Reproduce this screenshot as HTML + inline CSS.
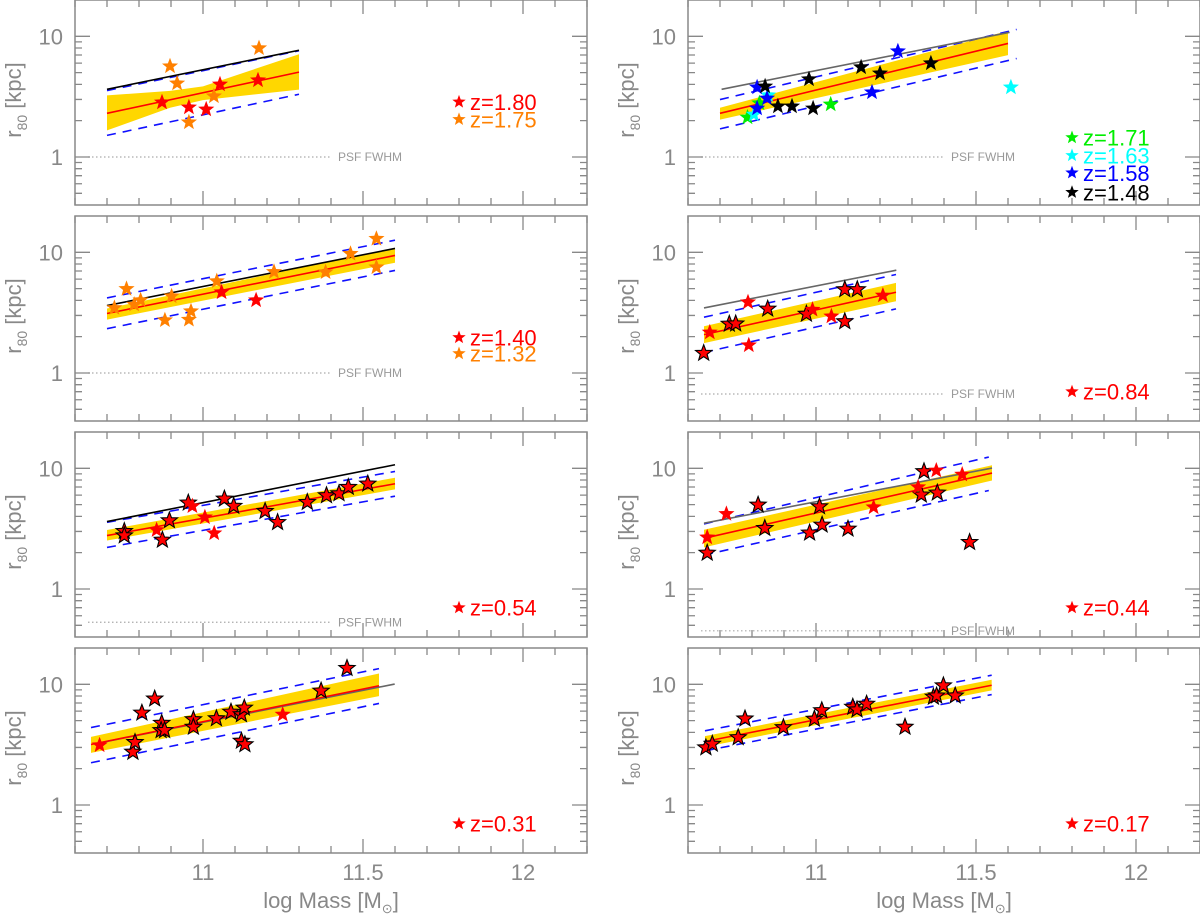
<!DOCTYPE html>
<html><head><meta charset="utf-8"><style>
html,body{margin:0;padding:0;background:#fff}
svg{display:block}
text{font-family:"Liberation Sans",sans-serif}
</style></head><body>
<svg id="chart" width="1200" height="916" viewBox="0 0 1200 916" xmlns="http://www.w3.org/2000/svg"></svg>
<script>
// ---------- DATA ----------
// Panel 1L (z=1.80 / 1.75)
const p1L_starMass=[10.872,10.956,11.01,11.053,11.172,10.897,10.919,10.956,11.034,11.175];
const p1L_starR=[2.84,2.58,2.48,4.0,4.33,5.65,4.08,1.94,3.19,7.98];
const p1L_starSeries=["red","red","red","red","red","orange","orange","orange","orange","orange"];
const p1L_fitMass=[10.7,11.3]; const p1L_fitR=[2.30,5.05];
const p1L_bandMass=[10.7,10.897,11.0,11.3]; const p1L_bandHi=[3.24,3.53,3.85,7.1]; const p1L_bandLo=[1.66,2.56,2.96,3.62];
const p1L_dashMass=[10.7,11.3]; const p1L_dashHi=[3.55,7.6]; const p1L_dashLo=[1.51,3.31];
const p1L_refMass=[10.7,11.3]; const p1L_refR=[3.64,7.67];
// Panel 1R (z=1.71..1.48)
const p1R_starMass=[10.786,10.823,11.046,10.806,10.85,11.609,10.816,10.816,10.847,11.175,11.256,10.841,10.881,10.925,10.991,10.978,11.141,11.2,11.359];
const p1R_starR=[2.13,2.79,2.73,2.25,3.25,3.78,3.78,2.53,3.06,3.44,7.53,3.85,2.63,2.63,2.53,4.41,5.55,4.94,5.99];
const p1R_starSeries=["green","green","green","cyan","cyan","cyan","blue","blue","blue","blue","blue","black","black","black","black","black","black","black","black"];
const p1R_fitMass=[10.7,11.6]; const p1R_fitR=[2.30,8.73];
const p1R_bandMass=[10.7,11.6]; const p1R_bandHi=[2.56,11.1]; const p1R_bandLo=[2.04,6.98];
const p1R_dashMass=[10.7,11.627]; const p1R_dashHi=[2.99,11.4]; const p1R_dashLo=[1.71,6.55];
const p1R_refMass=[10.705,11.605]; const p1R_refR=[3.64,10.8];
// Panel 2L (z=1.40 / 1.32)
const p2L_starMass=[10.723,10.761,10.785,10.805,10.902,10.881,10.956,10.9625,11.043,11.222,11.383,11.461,11.542,11.542,11.058,11.166];
const p2L_starR=[3.46,4.98,3.69,4.01,4.33,2.74,2.77,3.25,5.77,6.89,6.85,9.73,12.96,7.53,4.67,4.01];
const p2L_starSeries=["orange","orange","orange","orange","orange","orange","orange","orange","orange","orange","orange","orange","orange","orange","red","red"];
const p2L_fitMass=[10.7,11.6]; const p2L_fitR=[3.11,9.42];
const p2L_bandMass=[10.7,11.6]; const p2L_bandHi=[3.42,10.9]; const p2L_bandLo=[2.77,8.19];
const p2L_dashMass=[10.7,11.6]; const p2L_dashHi=[4.19,12.6]; const p2L_dashLo=[2.33,7.08];
const p2L_refMass=[10.7,11.6]; const p2L_refR=[3.62,10.77];
// Panel 2R (z=0.84)
const p2R_starMass=[10.649,10.729,10.749,10.849,10.970,10.989,11.09,11.129,11.09,10.668,10.7875,10.79,11.048,11.209];
const p2R_starR=[1.46,2.55,2.56,3.40,3.08,3.35,4.92,4.92,2.67,2.17,3.86,1.70,2.95,4.39];
const p2R_starSeries=["edged","edged","edged","edged","edged","red","edged","edged","edged","red","red","red","red","red"];
const p2R_fitMass=[10.65,11.25]; const p2R_fitR=[2.08,4.67];
const p2R_bandMass=[10.65,11.25]; const p2R_bandHi=[2.44,5.58]; const p2R_bandLo=[1.77,3.93];
const p2R_dashMass=[10.65,11.25]; const p2R_dashHi=[2.90,6.55]; const p2R_dashLo=[1.48,3.40];
const p2R_refMass=[10.65,11.251]; const p2R_refR=[3.46,7.11];
// Panel 3L (z=0.54)
const p3L_starMass=[10.754,10.754,10.873,10.895,10.954,11.067,11.096,11.194,11.233,11.326,11.386,11.425,11.454,11.515,10.855,10.967,11.006,11.035];
const p3L_starR=[3.01,2.77,2.55,3.69,5.18,5.59,4.86,4.41,3.57,5.24,5.95,6.18,6.98,7.44,3.08,4.86,3.93,2.90];
const p3L_starSeries=["edged","edged","edged","edged","edged","edged","edged","edged","edged","edged","edged","edged","edged","edged","red","red","red","red"];
const p3L_fitMass=[10.7,11.6]; const p3L_fitR=[2.77,7.45];
const p3L_bandMass=[10.7,11.6]; const p3L_bandHi=[3.08,8.36]; const p3L_bandLo=[2.52,6.69];
const p3L_dashMass=[10.7,11.6]; const p3L_dashHi=[3.57,9.42]; const p3L_dashLo=[2.21,5.88];
const p3L_refMass=[10.7,11.6]; const p3L_refR=[3.62,10.7];
// Panel 3R (z=0.44)
const p3R_starMass=[10.66,10.819,10.84,10.98,11.011,11.019,11.1,11.3375,11.329,11.379,11.48,10.66,10.72,11.18,11.319,11.376,11.457];
const p3R_starR=[1.99,4.98,3.19,2.92,4.82,3.40,3.15,9.42,6.03,6.27,2.44,2.68,4.19,4.76,6.98,9.60,8.89];
const p3R_starSeries=["edged","edged","edged","edged","edged","edged","edged","edged","edged","edged","edged","red","red","red","red","red","red"];
const p3R_fitMass=[10.65,11.55]; const p3R_fitR=[2.63,9.13];
const p3R_bandMass=[10.65,11.55]; const p3R_bandHi=[3.10,10.6]; const p3R_bandLo=[2.21,7.92];
const p3R_dashMass=[10.65,11.54]; const p3R_dashHi=[3.46,12.4]; const p3R_dashLo=[1.91,6.55];
const p3R_refMass=[10.65,11.55]; const p3R_refR=[3.51,10.05];
// Panel 4L (z=0.31)
const p4L_starMass=[10.677,10.781,10.7875,10.809,10.849,10.871,10.869,10.880,10.970,10.970,11.042,11.0875,11.12,11.129,11.12,11.131,11.249,11.369,11.45];
const p4L_starR=[3.13,2.75,3.31,5.80,7.59,4.77,4.16,4.16,5.11,4.43,5.21,5.91,5.62,6.38,3.39,3.17,5.62,8.83,13.6];
const p4L_starSeries=["red","edged","edged","edged","edged","edged","edged","edged","edged","edged","edged","edged","edged","edged","edged","edged","red","edged","edged"];
const p4L_fitMass=[10.65,11.55]; const p4L_fitR=[3.17,9.73];
const p4L_bandMass=[10.65,11.55]; const p4L_bandHi=[3.67,12.3]; const p4L_bandLo=[2.70,7.98];
const p4L_dashMass=[10.65,11.55]; const p4L_dashHi=[4.38,13.5]; const p4L_dashLo=[2.24,6.94];
const p4L_refMass=[10.677,11.599]; const p4L_refR=[3.27,10.05];
// Panel 4R (z=0.17)
const p4R_starMass=[10.656,10.676,10.757,10.778,10.898,10.995,11.018,11.115,11.128,11.158,11.278,11.367,11.377,11.398,11.435];
const p4R_starR=[2.99,3.20,3.63,5.19,4.39,5.16,6.08,6.49,6.16,6.88,4.43,7.86,8.05,9.76,8.05];
const p4R_starSeries=["edged","edged","edged","edged","edged","edged","edged","edged","edged","edged","edged","edged","edged","edged","edged"];
const p4R_fitMass=[10.653,11.549]; const p4R_fitR=[3.36,9.82];
const p4R_bandMass=[10.653,11.549]; const p4R_bandHi=[3.72,10.9]; const p4R_bandLo=[3.03,8.9];
const p4R_dashMass=[10.653,11.549]; const p4R_dashHi=[4.12,11.9]; const p4R_dashLo=[2.81,8.22];
// Legends
const legend1L_labels=["z=1.80","z=1.75"]; const legend1L_r=[2.86,2.05]; const legend1L_series=["red","orange"];
const legend1R_labels=["z=1.71","z=1.63","z=1.58","z=1.48"]; const legend1R_r=[1.45,1.03,0.74,0.51]; const legend1R_series=["green","cyan","blue","black"];
const legend2L_labels=["z=1.40","z=1.32"]; const legend2L_r=[1.97,1.45]; const legend2L_series=["red","orange"];
const legend2R_labels=["z=0.84"]; const legend2R_r=[0.7]; const legend2R_series=["red"];
const legend3L_labels=["z=0.54"]; const legend3L_r=[0.7]; const legend3L_series=["red"];
const legend3R_labels=["z=0.44"]; const legend3R_r=[0.7]; const legend3R_series=["red"];
const legend4L_labels=["z=0.31"]; const legend4L_r=[0.7]; const legend4L_series=["red"];
const legend4R_labels=["z=0.17"]; const legend4R_r=[0.7]; const legend4R_series=["red"];
const psfR=[1,1,1,0.67,0.53,0.45,null,null];
const xTickLabels=["11","11.5","12"]; const xTickValues=[11,11.5,12];
const yTickLabels=["1","10"]; const yTickValues=[1,10];

// ---------- RENDER ----------
const NS="http://www.w3.org/2000/svg";
const svg=document.getElementById('chart');
const COLORS={red:"#ff0000",orange:"#ff8000",green:"#00ee00",cyan:"#00ffff",blue:"#0000ff",black:"#000000",edged:"#ff0000"};
const MMIN=10.6,MMAX=12.2,LMIN=Math.log10(0.4),LMAX=Math.log10(20);
const PW=512,PH=205;
function mk(tag,attrs,parent){const e=document.createElementNS(NS,tag);for(const k in attrs)e.setAttribute(k,attrs[k]);(parent||svg).appendChild(e);return e;}
function starPath(cx,cy,R){const r=R*0.42;let d="";for(let i=0;i<10;i++){const a=-Math.PI/2+i*Math.PI/5;const rr=i%2?r:R;d+=(i?"L":"M")+(cx+rr*Math.cos(a)).toFixed(1)+","+(cy+rr*Math.sin(a)).toFixed(1);}return d+"Z";}

const panels=[
 {id:"1L",col:0,row:0,sm:p1L_starMass,sr:p1L_starR,ss:p1L_starSeries,fm:p1L_fitMass,fr:p1L_fitR,bm:p1L_bandMass,bh:p1L_bandHi,bl:p1L_bandLo,dm:p1L_dashMass,dh:p1L_dashHi,dl:p1L_dashLo,rm:p1L_refMass,rr:p1L_refR,refColor:"#000",ll:legend1L_labels,lr:legend1L_r,ls:legend1L_series},
 {id:"1R",col:1,row:0,sm:p1R_starMass,sr:p1R_starR,ss:p1R_starSeries,fm:p1R_fitMass,fr:p1R_fitR,bm:p1R_bandMass,bh:p1R_bandHi,bl:p1R_bandLo,dm:p1R_dashMass,dh:p1R_dashHi,dl:p1R_dashLo,rm:p1R_refMass,rr:p1R_refR,refColor:"#666",ll:legend1R_labels,lr:legend1R_r,ls:legend1R_series},
 {id:"2L",col:0,row:1,sm:p2L_starMass,sr:p2L_starR,ss:p2L_starSeries,fm:p2L_fitMass,fr:p2L_fitR,bm:p2L_bandMass,bh:p2L_bandHi,bl:p2L_bandLo,dm:p2L_dashMass,dh:p2L_dashHi,dl:p2L_dashLo,rm:p2L_refMass,rr:p2L_refR,refColor:"#000",ll:legend2L_labels,lr:legend2L_r,ls:legend2L_series},
 {id:"2R",col:1,row:1,sm:p2R_starMass,sr:p2R_starR,ss:p2R_starSeries,fm:p2R_fitMass,fr:p2R_fitR,bm:p2R_bandMass,bh:p2R_bandHi,bl:p2R_bandLo,dm:p2R_dashMass,dh:p2R_dashHi,dl:p2R_dashLo,rm:p2R_refMass,rr:p2R_refR,refColor:"#666",ll:legend2R_labels,lr:legend2R_r,ls:legend2R_series},
 {id:"3L",col:0,row:2,sm:p3L_starMass,sr:p3L_starR,ss:p3L_starSeries,fm:p3L_fitMass,fr:p3L_fitR,bm:p3L_bandMass,bh:p3L_bandHi,bl:p3L_bandLo,dm:p3L_dashMass,dh:p3L_dashHi,dl:p3L_dashLo,rm:p3L_refMass,rr:p3L_refR,refColor:"#000",ll:legend3L_labels,lr:legend3L_r,ls:legend3L_series},
 {id:"3R",col:1,row:2,sm:p3R_starMass,sr:p3R_starR,ss:p3R_starSeries,fm:p3R_fitMass,fr:p3R_fitR,bm:p3R_bandMass,bh:p3R_bandHi,bl:p3R_bandLo,dm:p3R_dashMass,dh:p3R_dashHi,dl:p3R_dashLo,rm:p3R_refMass,rr:p3R_refR,refColor:"#666",ll:legend3R_labels,lr:legend3R_r,ls:legend3R_series},
 {id:"4L",col:0,row:3,sm:p4L_starMass,sr:p4L_starR,ss:p4L_starSeries,fm:p4L_fitMass,fr:p4L_fitR,bm:p4L_bandMass,bh:p4L_bandHi,bl:p4L_bandLo,dm:p4L_dashMass,dh:p4L_dashHi,dl:p4L_dashLo,rm:p4L_refMass,rr:p4L_refR,refColor:"#666",ll:legend4L_labels,lr:legend4L_r,ls:legend4L_series},
 {id:"4R",col:1,row:3,sm:p4R_starMass,sr:p4R_starR,ss:p4R_starSeries,fm:p4R_fitMass,fr:p4R_fitR,bm:p4R_bandMass,bh:p4R_bandHi,bl:p4R_bandLo,dm:p4R_dashMass,dh:p4R_dashHi,dl:p4R_dashLo,rm:null,rr:null,refColor:"#666",ll:legend4R_labels,lr:legend4R_r,ls:legend4R_series}
];

panels.forEach((p,pi)=>{
  const x0=p.col?688:75, top=p.row*216;
  const X=m=>x0+(m-MMIN)/(MMAX-MMIN)*PW;
  const Y=r=>top+(LMAX-Math.log10(r))/(LMAX-LMIN)*PH;
  const g=mk('g',{});
  
  
  // band
  let d="";p.bm.forEach((m,i)=>{d+=(i?"L":"M")+X(m)+","+Y(p.bh[i]);});
  for(let i=p.bm.length-1;i>=0;i--)d+="L"+X(p.bm[i])+","+Y(p.bl[i]);
  const band=mk('path',{d:d+"Z",fill:"#ffd700"},g);
  
  
  // dashed
  [p.dh,p.dl].forEach((arr,k)=>{
    const l=mk('line',{x1:X(p.dm[0]),y1:Y(arr[0]),x2:X(p.dm[1]),y2:Y(arr[1]),stroke:"#1010ff","stroke-width":1.6,"stroke-dasharray":"9 7"},g);
    
    
  });
  // reference line
  if(p.rm){
    const l=mk('line',{x1:X(p.rm[0]),y1:Y(p.rr[0]),x2:X(p.rm[1]),y2:Y(p.rr[1]),stroke:p.refColor,"stroke-width":1.6},g);
    
    
  }
  // fit line
  const fl=mk('line',{x1:X(p.fm[0]),y1:Y(p.fr[0]),x2:X(p.fm[1]),y2:Y(p.fr[1]),stroke:"#ff0000","stroke-width":1.6},g);
  
  
  // PSF
  if(psfR[pi]){
    const py=Y(psfR[pi]);
    const l=mk('line',{x1:x0+13,y1:py,x2:x0+255,y2:py,stroke:"#aaa","stroke-width":1.2,"stroke-dasharray":"1.5 2.5"},g);
    
    
    const t=mk('text',{x:x0+263,y:py+4,"font-size":12,fill:"#999","font-family":"Liberation Serif, serif"},g);
    t.textContent="PSF FWHM";
    
    
  }
  // stars
  p.sm.forEach((m,i)=>{
    const s=p.ss[i];
    const edged=(s==="edged");
    const st=mk('path',{d:starPath(X(m),Y(p.sr[i]),8.5),fill:COLORS[s],stroke:edged?"#000":"none","stroke-width":edged?1.1:0},g);
    
    
  });
  // legend
  p.ll.forEach((lab,i)=>{
    const lx=X(11.8), ly=Y(p.lr[i]);
    const st=mk('path',{d:starPath(lx,ly,7),fill:COLORS[p.ls[i]]},g);
    
    
    const t=mk('text',{x:lx+11,y:ly+8,"font-size":22,fill:COLORS[p.ls[i]],"font-family":"Liberation Serif, serif"},g);
    t.textContent=lab;
    
    
  });
  // frame
  const fr=mk('rect',{x:x0,y:top,width:PW,height:PH,fill:"none",stroke:"#888","stroke-width":1.5},g);
  
  
  // x ticks
  let td="";
  for(let k=0;k<=16;k++){const m=MMIN+k*0.1;const xx=X(m);const major=(k%5===4);const L=major?14:7;td+=`M${xx},${top}v${L}M${xx},${top+PH}v${-L}`;}
  // y ticks
  const yt=[0.5,0.6,0.7,0.8,0.9,1,2,3,4,5,6,7,8,9,10];
  yt.forEach(v=>{const yy=Y(v);const L=(v===1||v===10)?15:7;td+=`M${x0},${yy}h${L}M${x0+PW},${yy}h${-L}`;});
  const tk=mk('path',{d:td,stroke:"#888","stroke-width":1.3,fill:"none"},g);
  
  
  yTickValues.forEach((v,i)=>{
    const t=mk('text',{x:x0-12,y:Y(v)+8,"font-size":22,fill:"#888","text-anchor":"end"},g);
    t.textContent=yTickLabels[i];
    
    
  });
  // y title
  const yx=p.col?634:21, yy=top+100;
  const yt2=mk('text',{x:yx,y:yy,"font-size":22,fill:"#888","text-anchor":"middle",transform:`rotate(-90 ${yx} ${yy})`,"font-family":"Liberation Serif, serif"},g);
  yt2.innerHTML='r<tspan font-size="14" dy="6">80</tspan><tspan dy="-6"> [kpc]</tspan>';
  
  
  if(p.row===3){
    xTickValues.forEach((v,i)=>{
      const t=mk('text',{x:X(v),y:880,"font-size":22,fill:"#888","text-anchor":"middle"},g);
      t.textContent=xTickLabels[i];
      
      
    });
    const xt=mk('text',{x:x0+256,y:908,"font-size":22,fill:"#888","text-anchor":"middle","font-family":"Liberation Serif, serif"},g);
    xt.innerHTML='log Mass [M<tspan font-size="13" dy="5">⊙</tspan><tspan dy="-5">]</tspan>';
    
    
  }
});
</script>
</body></html>
